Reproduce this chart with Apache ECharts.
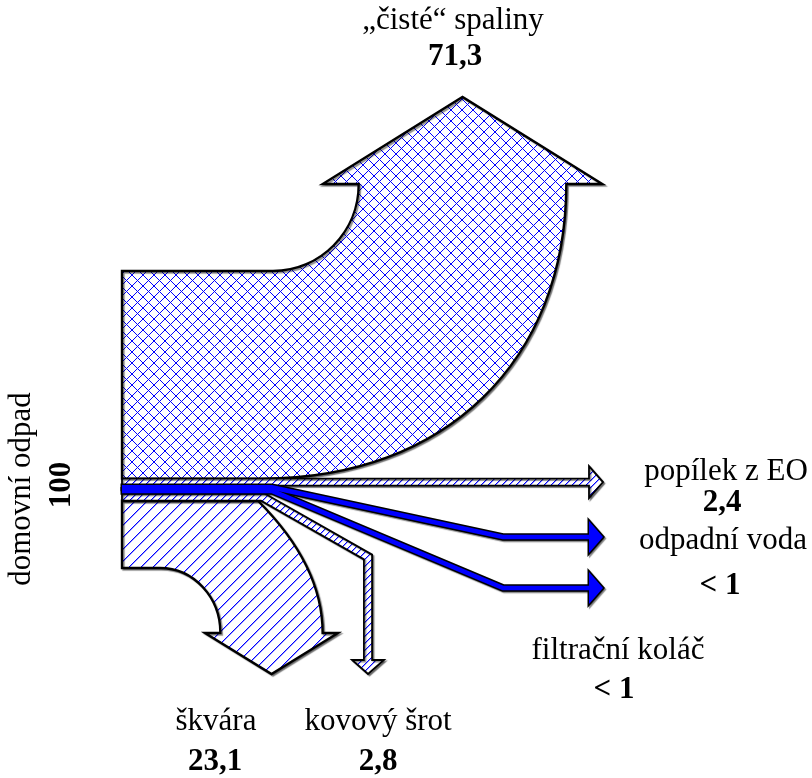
<!DOCTYPE html>
<html>
<head>
<meta charset="utf-8">
<script src="https://cdn.jsdelivr.net/npm/echarts@6/dist/echarts.min.js"></script>
<style>
  html, body { margin: 0; background: #fff; }
  #main { width: 812px; height: 778px; }
</style>
</head>
<body>
<div id="main"></div>
<script>
// hmotová bilance spalovny (%), pořadí toků shora dolů na vstupu
var inputName = 'domovní odpad';
var inputValue = 100;
var flowNames = ['„čisté“ spaliny', 'popílek z EO', 'odpadní voda', 'filtrační koláč', 'kovový šrot', 'škvára'];
var flowValues = [71.3, 2.4, 0.2, 0.2, 2.8, 23.1];

var SERIF = '"Liberation Serif", "Times New Roman", serif';
var FONT = '31px ' + SERIF;
var FONT_B = 'bold 31px ' + SERIF;
var K = 0.5523;        // bezier aproximace ctvrt-elipsy
var MIN_BAND = 3.5;    // minimalni sirka malych toku v px

function fmt(v) {
  return v < 1 ? '< 1' : String(v).replace('.', ',');
}

// srafy - ostre pixelove diagonaly (jednosmerne s mirnym rozmazanim)
function hatch(size, cross) {
  var c = document.createElement('canvas');
  c.width = c.height = size;
  var g = c.getContext('2d');
  g.fillStyle = '#fff';
  g.fillRect(0, 0, size, size);
  var x;
  if (!cross) {
    g.fillStyle = '#9999ff';
    for (x = 0; x < size; x++) g.fillRect((x + 1) % size, size - 1 - x, 1, 1);
  }
  g.fillStyle = '#0000ff';
  for (x = 0; x < size; x++) {
    g.fillRect(x, size - 1 - x, 1, 1);
    if (cross) g.fillRect(x, x, 1, 1);
  }
  return { image: c, repeat: 'repeat' };
}
var crossFill = hatch(11, true);
var diagFill = hatch(12, false);
var thinFill = hatch(7, false);

// polygon kolem lomene cary + sipka na konci
function arrowStrip(pts, hw, headHalf, headLen) {
  var a = [], b = [];
  function nrm(p, q) {
    var dx = q[0] - p[0], dy = q[1] - p[1], l = Math.sqrt(dx * dx + dy * dy);
    return [-dy / l, dx / l];
  }
  for (var i = 0; i < pts.length; i++) {
    var n0 = i > 0 ? nrm(pts[i - 1], pts[i]) : null;
    var n1 = i < pts.length - 1 ? nrm(pts[i], pts[i + 1]) : null;
    var m, s = hw;
    if (n0 && n1) {
      m = [n0[0] + n1[0], n0[1] + n1[1]];
      var ml = Math.sqrt(m[0] * m[0] + m[1] * m[1]);
      m = [m[0] / ml, m[1] / ml];
      s = hw / (m[0] * n0[0] + m[1] * n0[1]);
    } else {
      m = n0 || n1;
    }
    a.push([pts[i][0] + m[0] * s, pts[i][1] + m[1] * s]);
    b.push([pts[i][0] - m[0] * s, pts[i][1] - m[1] * s]);
  }
  var e = pts[pts.length - 1], p = pts[pts.length - 2];
  var n = nrm(p, e);
  var d = [n[1], -n[0]];
  var poly = a.slice();
  poly.push([e[0] + n[0] * headHalf, e[1] + n[1] * headHalf]);
  poly.push([e[0] + d[0] * headLen, e[1] + d[1] * headLen]);
  poly.push([e[0] - n[0] * headHalf, e[1] - n[1] * headHalf]);
  return poly.concat(b.reverse());
}

// rozlozeni pasu toku na vstupu (px) z osy y
function bands(api) {
  var top = api.coord([0, 0]);
  var unit = api.size([0, 1])[1];
  var small = 0, big = 0;
  flowValues.forEach(function (v) { if (v < 1) small += MIN_BAND; else big += v; });
  var k = (inputValue * unit - small) / big;
  var y = top[1], out = [];
  flowValues.forEach(function (v) {
    var h = v < 1 ? MIN_BAND : v * k;
    out.push([y, y + h]);
    y += h;
  });
  return { x0: top[0], b: out };
}

// pozice popisku (px)
var labelPos = [
  [453, 21, 455, 57],
  [726, 472, 722, 503],
  [723, 541, 720, 586],
  [618, 651, 614, 690],
  [378, 722, 378, 762],
  [216, 722, 215, 762]
];

var seriesData = [];
var acc = 0;
flowValues.forEach(function (v, i) {
  seriesData.push([0, acc, v, i]);
  acc += v;
});

var shadow = { shadowColor: 'rgba(0,0,0,0.45)', shadowBlur: 1, shadowOffsetX: 1.5, shadowOffsetY: 1.5 };

function labels(i) {
  var p = labelPos[i];
  return [
    { type: 'text', z2: 10, style: { text: flowNames[i], x: p[0], y: p[1], font: FONT, fill: '#000', align: 'center', verticalAlign: 'middle' } },
    { type: 'text', z2: 10, style: { text: fmt(flowValues[i]), x: p[2], y: p[3], font: FONT_B, fill: '#000', align: 'center', verticalAlign: 'middle' } }
  ];
}

function renderItem(params, api) {
  var i = api.value(3);
  var g = bands(api);
  var x0 = g.x0, yT = g.b[i][0], yB = g.b[i][1], w = yB - yT, yc = (yT + yB) / 2;
  var ch = labels(i);
  var outline = Object.assign({ stroke: '#000', lineWidth: 2.4, lineJoin: 'miter' }, shadow);

  if (i === 0) {
    // spaliny nahoru
    var cx = 462.5, sL = cx - w / 2, sR = cx + w / 2, ys = 184, Ko = 0.6;
    var d = 'M' + x0 + ' ' + yB + ' L' + x0 + ' ' + yT + ' L273 ' + yT +
      ' C' + (273 + K * (sL - 273)) + ' ' + yT + ' ' + sL + ' ' + (ys + K * (yT - ys)) + ' ' + sL + ' ' + ys +
      ' L' + (sL - 36) + ' ' + ys + ' L' + cx + ' ' + (ys - 87) + ' L' + (sR + 36) + ' ' + ys + ' L' + sR + ' ' + ys +
      ' C' + sR + ' ' + (ys + Ko * (yB - ys)) + ' ' + (263 + Ko * (sR - 263)) + ' ' + yB + ' 263 ' + yB + ' Z';
    ch.push({ type: 'path', z2: 1, shape: { pathData: d }, style: Object.assign({ fill: crossFill }, outline) });
  } else if (i === 5) {
    // skvara dolu
    var sc = 271.5, hw = w * 0.76, ys2 = 633, iL = sc - hw, iR = sc + hw;
    var d2 = 'M' + x0 + ' ' + yT + ' L258 ' + yT +
      ' C292 ' + (yT + 34) + ' ' + iR + ' 580 ' + iR + ' ' + ys2 +
      ' L' + (sc + 66.5) + ' ' + ys2 + ' L' + sc + ' ' + (ys2 + 41) + ' L' + (sc - 66.5) + ' ' + ys2 + ' L' + iL + ' ' + ys2 +
      ' C' + iL + ' ' + (ys2 - K * (ys2 - yB)) + ' ' + (160 + K * (iL - 160)) + ' ' + yB + ' 160 ' + yB +
      ' L' + x0 + ' ' + yB + ' Z';
    ch.push({ type: 'path', z2: 1, shape: { pathData: d2 }, style: Object.assign({ fill: diagFill }, outline) });
  } else if (i === 1 || i === 4) {
    var pts = i === 1 ? [[x0, yc], [589, yc]] : [[x0, yc], [262, yc], [368, 557], [368, 660]];
    var poly = arrowStrip(pts, w / 2, 16, 14);
    ch.push({ type: 'polygon', z2: 2, shape: { points: poly }, style: Object.assign({ fill: thinFill, stroke: '#000', lineWidth: 1.8, lineJoin: 'miter' }, shadow) });
  } else {
    var yEnd = i === 2 ? 537 : 588;
    var poly2 = arrowStrip([[x0, yc], [272, yc], [503, yEnd], [589, yEnd]], w / 2 + 0.6, 16, 14);
    ch.push({ type: 'polygon', z2: 3, shape: { points: poly2 }, style: Object.assign({ fill: '#000', stroke: '#000', lineWidth: 3 }, shadow) });
    ch.push({ type: 'polygon', z2: 4, shape: { points: poly2 }, style: { fill: '#0000ff' } });
  }
  return { type: 'group', children: ch };
}

var chart = echarts.init(document.getElementById('main'), null, { renderer: 'canvas' });
chart.setOption({
  backgroundColor: '#fff',
  animation: false,
  grid: { left: 122, top: 271, width: 100, height: 297 },
  xAxis: { type: 'value', min: 0, max: 1, show: false },
  yAxis: { type: 'value', min: 0, max: inputValue, inverse: true, show: false },
  graphic: [
    { type: 'text', x: 22, y: 489, rotation: Math.PI / 2, style: { text: inputName, font: FONT, fill: '#000', align: 'center', verticalAlign: 'middle' } },
    { type: 'text', x: 62, y: 485, rotation: Math.PI / 2, style: { text: fmt(inputValue), font: FONT_B, fill: '#000', align: 'center', verticalAlign: 'middle' } }
  ],
  series: [{
    type: 'custom',
    coordinateSystem: 'cartesian2d',
    clip: false,
    encode: { x: 0, y: 1 },
    data: seriesData,
    renderItem: renderItem
  }]
});
</script>
</body>
</html>
